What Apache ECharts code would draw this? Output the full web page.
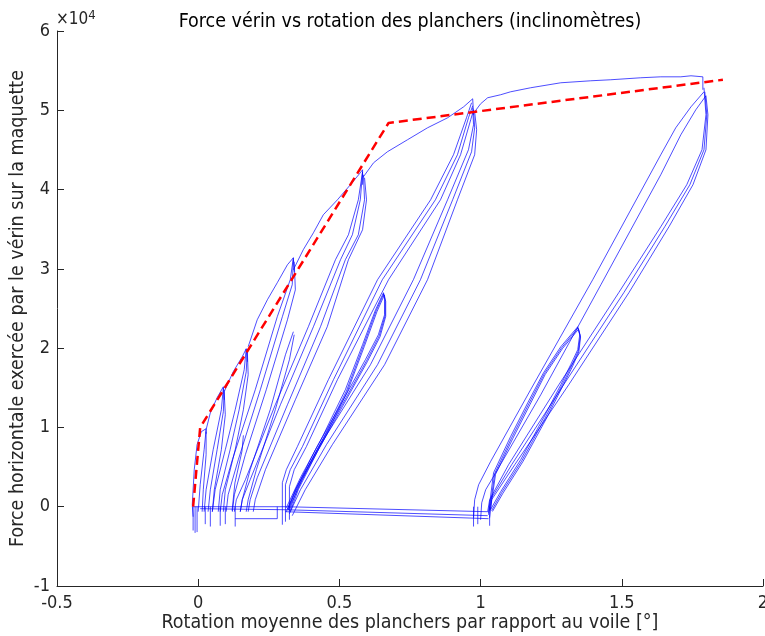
<!DOCTYPE html>
<html>
<head>
<meta charset="utf-8">
<script src="https://cdn.jsdelivr.net/npm/echarts@6/dist/echarts.min.js"></script>
<style>
html,body{margin:0;padding:0;background:#fff;}
#chart{width:765px;height:636px;}
</style>
</head>
<body>
<div id="chart"></div>
<script>
// ---- data: [rotation (deg), force (x1e4 N)] ----
const xTicks = [-0.5, 0, 0.5, 1, 1.5, 2];
const yTicks = [-1, 0, 1, 2, 3, 4, 5, 6];

// red dashed bilinear-ish envelope
const redRotation = [-0.018, 0.007, 0.674, 1.858];
const redForce    = [0, 1.0, 4.84, 5.385];

// first-loading envelope segments
const envH = [[-0.018,-0.126],[-0.021,0.025],[-0.014,0.467],[-0.004,0.782],[0.011,0.946],[0.028,0.984],[0.028,0.92]];
const envG = [[0.028,0.971],[0.043,1.185],[0.067,1.375],[0.089,1.513],[0.092,1.349]];
const envF = [[0.092,1.450],[0.124,1.702],[0.156,1.892],[0.170,1.992],[0.174,1.829]];
const envD = [[0.177,2.018],[0.209,2.358],[0.245,2.610],[0.280,2.825],[0.316,3.052],[0.337,3.140],[0.340,2.963]];
const envC = [[0.337,2.989],[0.372,3.241],[0.408,3.455],[0.443,3.682],[0.493,3.871],[0.539,4.061],[0.574,4.212],[0.582,4.250],[0.582,4.061]];
const envB = [[0.585,4.161],[0.621,4.338],[0.670,4.477],[0.741,4.628],[0.812,4.779],[0.883,4.905],[0.940,5.044],[0.972,5.145],[0.975,4.943]];
const envA = [[0.979,4.981],[1.000,5.082],[1.025,5.158],[1.071,5.196],[1.106,5.233],[1.177,5.284],[1.284,5.347],[1.390,5.372],[1.461,5.385],[1.567,5.410],[1.638,5.422],[1.709,5.422],[1.745,5.435],[1.787,5.422],[1.787,5.259]];

// cycles to ~1.8 deg
const aRight1 = [[1.791,5.284],[1.798,4.943],[1.784,4.502],[1.730,4.061],[1.638,3.531],[1.489,2.699],[1.277,1.538],[1.099,0.530],[1.032,0.088],[1.025,-0.063]];
const aRight2 = [[1.794,5.233],[1.801,4.943],[1.791,4.502],[1.741,4.061],[1.652,3.531],[1.507,2.699],[1.294,1.538],[1.110,0.530],[1.035,0.088],[1.028,-0.101]];
const aRight3 = [[1.798,5.183],[1.805,4.943],[1.798,4.502],[1.752,4.061],[1.667,3.531],[1.525,2.699],[1.312,1.538],[1.121,0.530],[1.039,0.088],[1.032,-0.139]];
const aLeft1  = [[1.791,5.233],[1.745,5.044],[1.691,4.779],[1.638,4.439],[1.397,2.863],[1.177,1.475],[1.035,0.567],[0.993,0.277],[0.979,0.088],[0.975,-0.139]];
const aLeft2  = [[1.798,5.183],[1.762,5.006],[1.709,4.691],[1.638,4.187],[1.426,2.800],[1.213,1.412],[1.060,0.467],[1.018,0.214],[1.004,0.050],[1.000,-0.164]];
// small cycles to ~1.35 deg
const aInner1 = [[1.028,-0.076],[1.046,0.429],[1.106,0.883],[1.167,1.311],[1.223,1.690],[1.284,2.018],[1.344,2.270],[1.348,2.295],[1.351,2.169],[1.344,1.980],[1.319,1.791],[1.284,1.538],[1.223,1.122],[1.142,0.593],[1.071,0.189],[1.035,-0.038]];
const aInner2 = [[1.032,-0.050],[1.050,0.420],[1.110,0.870],[1.171,1.300],[1.226,1.680],[1.287,2.005],[1.345,2.255],[1.349,2.280],[1.353,2.150],[1.346,1.965],[1.322,1.775],[1.287,1.525],[1.227,1.110],[1.146,0.580],[1.075,0.180],[1.039,-0.050]];
const aInner3 = [[1.035,-0.030],[1.053,0.410],[1.114,0.860],[1.175,1.290],[1.229,1.670],[1.290,1.995],[1.347,2.240],[1.350,2.265],[1.354,2.140],[1.348,1.955],[1.325,1.765],[1.290,1.515],[1.231,1.100],[1.150,0.570],[1.079,0.170],[1.042,-0.060]];

// cycles to ~0.97 deg
const bLeft1 = [[0.298,-0.227],[0.298,0.303],[0.312,0.467],[0.351,0.757],[0.461,1.602],[0.635,2.863],[0.823,3.871],[0.904,4.439],[0.950,4.905],[0.968,5.095]];
const bLeft2 = [[0.309,-0.189],[0.309,0.277],[0.326,0.467],[0.369,0.757],[0.479,1.602],[0.652,2.863],[0.840,3.871],[0.918,4.439],[0.957,4.905],[0.972,5.057]];
const bLeft3 = [[0.323,-0.164],[0.323,0.252],[0.340,0.467],[0.383,0.757],[0.493,1.602],[0.674,2.863],[0.858,3.871],[0.929,4.439],[0.965,4.880],[0.975,5.006]];
const bRight1 = [[0.972,5.032],[0.975,4.817],[0.957,4.502],[0.883,3.871],[0.762,2.863],[0.610,1.791],[0.433,0.782],[0.344,0.214],[0.312,-0.063]];
const bRight2 = [[0.975,5.006],[0.979,4.779],[0.968,4.477],[0.901,3.871],[0.787,2.863],[0.635,1.791],[0.454,0.782],[0.362,0.214],[0.323,-0.088]];
const bRight3 = [[0.979,4.981],[0.986,4.754],[0.979,4.439],[0.918,3.871],[0.812,2.863],[0.660,1.791],[0.475,0.782],[0.379,0.214],[0.333,-0.113]];
// small cycles to ~0.66 deg
const bInner1 = [[0.312,-0.013],[0.362,0.366],[0.440,0.883],[0.521,1.475],[0.582,2.043],[0.628,2.484],[0.656,2.699],[0.660,2.610],[0.660,2.421],[0.638,2.169],[0.592,1.854],[0.504,1.286],[0.415,0.719],[0.348,0.240],[0.319,-0.038]];
const bInner2 = [[0.316,-0.030],[0.366,0.355],[0.444,0.870],[0.525,1.460],[0.585,2.030],[0.630,2.470],[0.657,2.685],[0.662,2.600],[0.662,2.410],[0.641,2.155],[0.596,1.840],[0.508,1.275],[0.419,0.705],[0.352,0.230],[0.323,-0.050]];
const bInner3 = [[0.319,-0.040],[0.369,0.345],[0.447,0.860],[0.528,1.450],[0.588,2.020],[0.633,2.460],[0.659,2.670],[0.664,2.590],[0.664,2.400],[0.644,2.145],[0.599,1.830],[0.511,1.265],[0.422,0.695],[0.355,0.220],[0.326,-0.060]];

// cycles to ~0.58 deg
const c1 = [[0.582,4.224],[0.567,3.871],[0.532,3.430],[0.486,3.115],[0.390,2.270],[0.273,1.286],[0.167,0.340],[0.135,0.088],[0.128,-0.063]];
const c2 = [[0.582,4.224],[0.574,3.871],[0.546,3.430],[0.504,3.115],[0.408,2.270],[0.291,1.286],[0.184,0.340],[0.156,0.088],[0.149,-0.063]];
const c3 = [[0.585,4.187],[0.589,3.871],[0.567,3.430],[0.521,3.115],[0.433,2.270],[0.316,1.286],[0.209,0.366],[0.184,0.088],[0.177,-0.063]];
const c4 = [[0.589,4.149],[0.596,3.871],[0.582,3.493],[0.532,3.115],[0.457,2.270],[0.344,1.349],[0.238,0.467],[0.202,0.088],[0.195,-0.063]];

// cycles to ~0.34 deg (3.1e4)
const d1 = [[0.337,3.140],[0.326,2.863],[0.280,2.396],[0.202,1.475],[0.121,0.593],[0.085,0.151],[0.078,-0.063]];
const d2 = [[0.337,3.115],[0.333,2.800],[0.298,2.396],[0.220,1.475],[0.142,0.593],[0.106,0.151],[0.099,-0.063]];
const d3 = [[0.340,3.090],[0.344,2.736],[0.316,2.358],[0.241,1.475],[0.167,0.656],[0.128,0.151],[0.121,-0.063]];
// small cycles to ~0.34 deg (2.2e4)
const e1 = [[0.337,2.207],[0.309,1.917],[0.255,1.223],[0.184,0.467],[0.156,0.088],[0.149,-0.063]];
const e2 = [[0.340,2.169],[0.323,1.854],[0.273,1.223],[0.206,0.467],[0.177,0.088],[0.170,-0.063]];

// cycles to ~0.17 deg
const f1 = [[0.170,1.992],[0.163,1.728],[0.131,1.223],[0.096,0.719],[0.060,0.214],[0.050,-0.063]];
const f2 = [[0.174,1.980],[0.170,1.702],[0.145,1.223],[0.113,0.719],[0.078,0.214],[0.071,-0.063]];
const f3 = [[0.174,1.955],[0.177,1.665],[0.160,1.223],[0.131,0.719],[0.096,0.214],[0.089,-0.063]];
// cycles to ~0.09 deg
const g1 = [[0.089,1.501],[0.082,1.223],[0.053,0.719],[0.028,0.214],[0.021,-0.063]];
const g2 = [[0.092,1.475],[0.089,1.198],[0.067,0.719],[0.043,0.214],[0.035,-0.063]];
const g3 = [[0.092,1.450],[0.096,1.160],[0.082,0.719],[0.057,0.214],[0.050,-0.063]];
// cycles to ~0.03 deg
const h1 = [[0.028,0.971],[0.021,0.719],[0.007,0.277],[0.000,-0.063]];
const h2 = [[0.028,0.946],[0.028,0.656],[0.018,0.214],[0.014,-0.063]];
const i1 = [[0.160,0.900],[0.155,0.700],[0.130,0.300],[0.120,-0.050]];

// return paths at near-zero force
const hz1 = [[-0.018,0],[0.309,0],[1.025,-0.063]];
const hz2 = [[0.007,-0.025],[0.309,-0.038],[1.025,-0.113]];
const hz3 = [[0.309,-0.063],[1.028,-0.151]];
const hz4 = [[0.131,-0.151],[0.280,-0.151],[0.280,0]];

// small downward spikes at the start of reloads
const spikeRotation = [-0.018, -0.011, -0.004, 0.025, 0.043, 0.078, 0.096, 0.131, 0.975, 0.990, 1.032];
const spikeForce    = [-0.30, -0.33, -0.32, -0.22, -0.25, -0.24, -0.22, -0.25, -0.25, -0.22, -0.24];

const bluePaths = [envH, envG, envF, envD, envC, envB, envA,
  aRight1, aRight2, aRight3, aLeft1, aLeft2, aInner1, aInner2, aInner3,
  bLeft1, bLeft2, bLeft3, bRight1, bRight2, bRight3, bInner1, bInner2, bInner3,
  c1, c2, c3, c4, d1, d2, d3, e1, e2, f1, f2, f3, g1, g2, g3, h1, h2, i1,
  hz1, hz2, hz3, hz4];
spikeRotation.forEach((x, i) => bluePaths.push([[x, 0], [x, spikeForce[i]]]));

const FONT = "'DejaVu Sans Condensed', 'DejaVu Sans', sans-serif";
const AX = '#262626';

const series = bluePaths.map(p => ({
  type: 'line', data: p, showSymbol: false, symbol: 'none', silent: true,
  lineStyle: { width: 0.9, color: '#0000ff', opacity: 0.78 }, z: 2
}));
series.push({
  type: 'line', data: redRotation.map((x, i) => [x, redForce[i]]),
  showSymbol: false, symbol: 'none', silent: true,
  lineStyle: { width: 2.5, color: '#ff0000', type: [9, 5] }, z: 3
});

const chart = echarts.init(document.getElementById('chart'), null, { renderer: 'canvas' });
chart.setOption({
  animation: false,
  backgroundColor: '#fff',
  title: {
    text: 'Force vérin vs rotation des planchers (inclinomètres)',
    left: 405, top: 7, textAlign: 'center',
    textStyle: { fontFamily: FONT, fontSize: 19.5, fontWeight: 'normal', color: '#000' }
  },
  graphic: [{
    type: 'text', left: 56, top: 9,
    style: { text: '×10{s|4}', fill: AX, font: '17px ' + FONT,
      rich: { s: { fontSize: 13, fontFamily: FONT, verticalAlign: 'top', padding: [0,0,8,0] } } }
  }],
  grid: { left: 57, right: 2, top: 31, bottom: 50, containLabel: false, outerBoundsMode: 'none' },
  xAxis: {
    type: 'value', min: xTicks[0], max: xTicks[xTicks.length - 1], interval: 0.5,
    name: 'Rotation moyenne des planchers par rapport au voile [°]',
    nameLocation: 'middle', nameGap: 27, nameMoveOverlap: false,
    nameTextStyle: { fontFamily: FONT, fontSize: 19.5, color: AX },
    axisLine: { show: true, onZero: false, lineStyle: { color: AX, width: 1 } },
    axisTick: { show: true, inside: true, length: 7, lineStyle: { color: AX } },
    axisLabel: { fontFamily: FONT, fontSize: 18, color: AX, margin: 8,
      formatter: v => String(Math.round(v * 10) / 10) },
    splitLine: { show: false }
  },
  yAxis: {
    type: 'value', min: yTicks[0], max: yTicks[yTicks.length - 1], interval: 1,
    name: 'Force horizontale exercée par le vérin sur la maquette',
    nameLocation: 'middle', nameGap: 29, nameRotate: 90, nameMoveOverlap: false,
    nameTextStyle: { fontFamily: FONT, fontSize: 19.5, color: AX },
    axisLine: { show: true, onZero: false, lineStyle: { color: AX, width: 1 } },
    axisTick: { show: true, inside: true, length: 7, lineStyle: { color: AX } },
    axisLabel: { fontFamily: FONT, fontSize: 18, color: AX, margin: 7 },
    splitLine: { show: false }
  },
  series: series
});
</script>
</body>
</html>
